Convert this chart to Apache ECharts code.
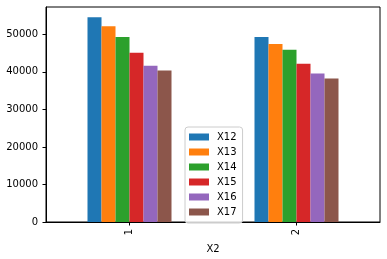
<!DOCTYPE html>
<html><head><meta charset="utf-8">
<script src="https://cdn.jsdelivr.net/npm/echarts@6/dist/echarts.min.js"></script>
<style>html,body{margin:0;padding:0;background:#fff}#c{width:387px;height:259px}</style>
</head><body><div id="c"></div>
<script>
const categories = ['1', '2'];
const seriesNames = ['X12', 'X13', 'X14', 'X15', 'X16', 'X17'];
const X12 = [54550, 49290];
const X13 = [52180, 47450];
const X14 = [49290, 45870];
const X15 = [45080, 42180];
const X16 = [41660, 39550];
const X17 = [40340, 38240];
const yTicks = [0, 10000, 20000, 30000, 40000, 50000];
const colors = ['#1f77b4', '#ff7f0e', '#2ca02c', '#d62728', '#9467bd', '#8c564b'];
const values = [X12, X13, X14, X15, X16, X17];

const chart = echarts.init(document.getElementById('c'), null, {renderer: 'canvas'});
const font = 'DejaVu Sans';
chart.setOption({
  animation: false,
  color: colors,
  grid: {left: 46, right: 7, top: 7, bottom: 35, show: true, borderColor: '#000', borderWidth: 1, backgroundColor: 'transparent'},
  legend: {
    orient: 'vertical', left: 185, top: 127,
    data: seriesNames,
    icon: 'rect', itemWidth: 20, itemHeight: 7, itemGap: 3,
    padding: [4, 6, 5, 4],
    borderColor: '#cccccc', borderWidth: 1, borderRadius: 3,
    backgroundColor: 'rgba(255,255,255,0.8)',
    textStyle: {fontFamily: font, fontSize: 10, color: '#000', lineHeight: 12, padding: [0, 0, 0, 3]}
  },
  xAxis: {
    type: 'category', data: categories,
    name: 'X2', nameLocation: 'middle', nameGap: 22,
    nameTextStyle: {fontFamily: font, fontSize: 10, color: '#000'},
    axisLine: {show: true, lineStyle: {color: '#000', width: 1}},
    axisTick: {show: true, alignWithLabel: true, length: 3.5, lineStyle: {color: '#000'}},
    axisLabel: {rotate: 90, fontFamily: font, fontSize: 10, color: '#000', margin: 7},
    splitLine: {show: false}
  },
  yAxis: {
    type: 'value', min: 0, max: 57280, interval: 10000,
    axisLine: {show: true, lineStyle: {color: '#000', width: 1}},
    axisTick: {show: true, length: 3.5, lineStyle: {color: '#000'}},
    axisLabel: {fontFamily: font, fontSize: 10, color: '#000', margin: 8, showMaxLabel: false,
      formatter: v => (yTicks.indexOf(v) >= 0 ? String(v) : '')},
    splitLine: {show: false}
  },
  series: seriesNames.map((n, i) => ({
    name: n, type: 'bar', data: values[i], barWidth: 14, barGap: '0%'
  }))
});
</script></body></html>
